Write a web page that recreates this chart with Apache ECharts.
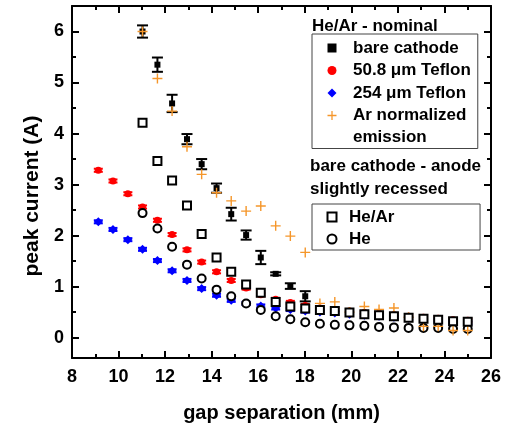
<!DOCTYPE html>
<html>
<head>
<meta charset="utf-8">
<script src="https://cdn.jsdelivr.net/npm/echarts@6/dist/echarts.min.js"></script>
<style>
  html, body { margin: 0; padding: 0; background: #fff; }
  #chart { width: 509px; height: 429px; }
</style>
</head>
<body>
<div id="chart"></div>
<script>
//------------------------------------------------------------
// data
//------------------------------------------------------------
// gap separation (mm), 26 positions
var gapAll = [9.13, 9.76, 10.40, 11.03, 11.67, 12.30, 12.94, 13.57, 14.21, 14.84,
	15.48, 16.11, 16.75, 17.38, 18.02, 18.65, 19.29, 19.92, 20.56, 21.19,
	21.83, 22.46, 23.10, 23.73, 24.37, 25.00];
var gapBare = [11.03, 11.67, 12.30, 12.94, 13.57, 14.21, 14.84, 15.48, 16.11, 16.75,
	17.38, 18.02];
var gapLong = [11.03, 11.67, 12.30, 12.94, 13.57, 14.21, 14.84, 15.48, 16.11, 16.75,
	17.38, 18.02, 18.65, 19.29, 19.92, 20.56, 21.19, 21.83, 22.46, 23.10,
	23.73, 24.37, 25.00];

// He/Ar nominal
var bareCathode = [6.00, 5.35, 4.59, 3.89, 3.40, 2.93, 2.42, 2.01, 1.57, 1.25, 1.01, 0.81];
var bareCathodeErr = [0.12, 0.14, 0.17, 0.10, 0.10, 0.09, 0.125, 0.09, 0.13, 0.03, 0.055, 0.10];
var teflon508 = [3.28, 3.07, 2.82, 2.56, 2.30, 2.02, 1.72, 1.48, 1.29, 1.12,
	0.97, 0.84, 0.75, 0.69, 0.63, 0.58, 0.55, 0.52, 0.49, 0.47,
	0.45, 0.42, 0.40, 0.38, 0.35, 0.34];
var teflon508Err = [0.03, 0.03, 0.03, 0.03, 0.03, 0.03, 0.03, 0.03, 0.03, 0.03,
	0.03, 0.03, 0.03, 0.03, 0.03, 0.03, 0.03, 0.03, 0.03, 0.03,
	0.03, 0.03, 0.03, 0.03, 0.03, 0.03];
var teflon254 = [2.27, 2.12, 1.92, 1.73, 1.51, 1.31, 1.12, 0.96, 0.83, 0.73,
	0.67, 0.62, 0.58, 0.55, 0.52, 0.50, 0.48, 0.46, 0.44, 0.42,
	0.40, 0.38, 0.36, 0.34, 0.31, 0.29];
var teflon254Err = [0.03, 0.03, 0.03, 0.03, 0.03, 0.03, 0.03, 0.03, 0.03, 0.03,
	0.03, 0.03, 0.03, 0.03, 0.03, 0.03, 0.03, 0.03, 0.03, 0.03,
	0.03, 0.03, 0.03, 0.03, 0.03, 0.03];
var arEmission = [6.00, 5.08, 4.44, 3.74, 3.20, 2.84, 2.68, 2.48, 2.58, 2.19,
	1.99, 1.67, 0.67, 0.70, 0.50, 0.61, 0.55, 0.58, 0.40, 0.22,
	0.22, 0.14, 0.14];

// bare cathode - anode slightly recessed
var recessedHeAr = [4.21, 3.46, 3.08, 2.59, 2.03, 1.57, 1.29, 1.04, 0.88, 0.70,
	0.61, 0.57, 0.54, 0.52, 0.49, 0.46, 0.44, 0.42, 0.39, 0.37,
	0.35, 0.32, 0.31];
var recessedHe = [2.44, 2.14, 1.78, 1.43, 1.16, 0.94, 0.81, 0.67, 0.54, 0.42,
	0.36, 0.30, 0.27, 0.25, 0.24, 0.23, 0.21, 0.20, 0.19, 0.19,
	0.19, 0.17, 0.17];

var xTicks = { min: 8, max: 26, step: 2 };
var yRange = { min: -0.4, max: 6.5 };

var FONT = 'Liberation Sans, Arial, sans-serif';
var ORANGE = '#f5962a';
var PLUS = 'path://M0.43,0H0.57V0.43H1V0.57H0.57V1H0.43V0.57H0V0.43H0.43Z';

//------------------------------------------------------------
// helpers
//------------------------------------------------------------
function pairs(xs, ys) {
	var out = [];
	for (var i = 0; i < xs.length; i++) {
		out.push([xs[i], ys[i]]);
	}
	return out;
}

// error bars drawn with a custom series
function errorBars(name, xs, ys, errs, color, capWidth, lineWidth) {
	var data = [];
	for (var i = 0; i < xs.length; i++) {
		data.push([xs[i], ys[i] - errs[i], ys[i] + errs[i]]);
	}
	return {
		type: 'custom',
		name: name,
		silent: true,
		data: data,
		encode: { x: 0, y: [1, 2] },
		renderItem: function (params, api) {
			var lo = api.coord([api.value(0), api.value(1)]);
			var hi = api.coord([api.value(0), api.value(2)]);
			var h = capWidth / 2;
			var st = { stroke: color, lineWidth: lineWidth };
			return {
				type: 'group',
				children: [
					{ type: 'line', shape: { x1: lo[0], y1: lo[1], x2: hi[0], y2: hi[1] }, style: st },
					{ type: 'line', shape: { x1: lo[0] - h, y1: lo[1], x2: lo[0] + h, y2: lo[1] }, style: st },
					{ type: 'line', shape: { x1: hi[0] - h, y1: hi[1], x2: hi[0] + h, y2: hi[1] }, style: st }
				]
			};
		}
	};
}

function frameAxis(extra) {
	var ax = {
		type: 'value',
		axisLine: { show: true, onZero: false, lineStyle: { color: '#000', width: 2 } },
		axisTick: { show: true, inside: true, length: 7, lineStyle: { color: '#000', width: 2 } },
		minorTick: { show: true, splitNumber: 2, length: 4, lineStyle: { color: '#000', width: 2 } },
		splitLine: { show: false },
		axisLabel: { show: false }
	};
	for (var k in extra) ax[k] = extra[k];
	return ax;
}

var labelStyle = { fontFamily: FONT, fontWeight: 'bold', fontSize: 18, color: '#000' };

//------------------------------------------------------------
// chart
//------------------------------------------------------------
var myChart = echarts.init(document.getElementById('chart'));

var option = {
	animation: false,
	backgroundColor: '#fff',
	grid: { left: 72, top: 6, right: 18, bottom: 71 },
	xAxis: [
		frameAxis({
			min: xTicks.min, max: xTicks.max, interval: xTicks.step,
			position: 'bottom',
			name: 'gap separation (mm)', nameLocation: 'middle', nameGap: 45,
			nameTextStyle: { fontFamily: FONT, fontWeight: 'bold', fontSize: 20, color: '#000' },
			axisLabel: { show: true, margin: 10, textStyle: labelStyle }
		}),
		frameAxis({ min: xTicks.min, max: xTicks.max, interval: xTicks.step, position: 'top' })
	],
	yAxis: [
		frameAxis({
			min: yRange.min, max: yRange.max, splitNumber: 7,
			position: 'left',
			name: 'peak current (A)', nameLocation: 'middle', nameGap: 26,
			nameTextStyle: { fontFamily: FONT, fontWeight: 'bold', fontSize: 21, color: '#000', padding: [0, 28, 0, 0] },
			axisLabel: { show: true, margin: 8, showMinLabel: false, showMaxLabel: false, textStyle: labelStyle }
		}),
		frameAxis({ min: yRange.min, max: yRange.max, splitNumber: 7, position: 'right' })
	],
	legend: [{
		orient: 'vertical', left: 312, top: 34,
		padding: [5.5, 7, 24.5, 15.5], itemGap: 5.5,
		itemWidth: 9, itemHeight: 9,
		borderColor: '#444', borderWidth: 1,
		selectedMode: false,
		textStyle: { fontFamily: FONT, fontWeight: 'bold', fontSize: 17, color: '#000', lineHeight: 17, padding: [0, 0, 0, 11.5] },
		data: ['bare cathode', '50.8 μm Teflon', '254 μm Teflon', 'Ar normalized']
	}, {
		orient: 'vertical', left: 312, top: 204,
		padding: [4.5, 85.7, 2.5, 14.5], itemGap: 5,
		itemWidth: 9, itemHeight: 9,
		borderColor: '#444', borderWidth: 1,
		selectedMode: false,
		textStyle: { fontFamily: FONT, fontWeight: 'bold', fontSize: 17, color: '#000', lineHeight: 17, padding: [0, 0, 0, 7.5] },
		data: ['He/Ar', 'He']
	}],
	graphic: [
		{ type: 'text', x: 312, y: 26, style: { text: 'He/Ar - nominal', font: 'bold 17px ' + FONT, fill: '#000', verticalAlign: 'middle' } },
		{ type: 'text', x: 353, y: 137, style: { text: 'emission', font: 'bold 17px ' + FONT, fill: '#000', verticalAlign: 'middle' } },
		{ type: 'text', x: 310, y: 166, style: { text: 'bare cathode - anode', font: 'bold 17px ' + FONT, fill: '#000', verticalAlign: 'middle' } },
		{ type: 'text', x: 310, y: 189, style: { text: 'slightly recessed', font: 'bold 17px ' + FONT, fill: '#000', verticalAlign: 'middle' } }
	],
	series: [
		errorBars('50.8 err', gapAll, teflon508, teflon508Err, '#ff0000', 9, 2),
		{
			name: '50.8 μm Teflon', type: 'scatter', symbol: 'circle', symbolSize: 7,
			itemStyle: { color: '#ff0000', opacity: 1 },
			data: pairs(gapAll, teflon508)
		},
		errorBars('254 err', gapAll, teflon254, teflon254Err, '#0000ff', 9, 2),
		{
			name: '254 μm Teflon', type: 'scatter', symbol: 'diamond', symbolSize: 9,
			itemStyle: { color: '#0000ff', opacity: 1 },
			data: pairs(gapAll, teflon254)
		},
		errorBars('bare err', gapBare, bareCathode, bareCathodeErr, '#000', 11, 2),
		{
			name: 'bare cathode', type: 'scatter', symbol: 'rect', symbolSize: 6,
			itemStyle: { color: '#000', opacity: 1 },
			data: pairs(gapBare, bareCathode)
		},
		{
			name: 'He', type: 'scatter', symbol: 'emptyCircle', symbolSize: 8,
			itemStyle: { color: '#000', borderWidth: 1.5, opacity: 1 },
			data: pairs(gapLong, recessedHe)
		},
		{
			name: 'Ar normalized', type: 'scatter', symbol: PLUS, symbolSize: 10,
			itemStyle: { color: ORANGE, opacity: 1 },
			data: pairs(gapLong, arEmission)
		},
		{
			name: 'He/Ar', type: 'scatter', symbol: 'emptyRect', symbolSize: 8,
			itemStyle: { color: '#000', borderWidth: 1.5, opacity: 1 },
			data: pairs(gapLong, recessedHeAr)
		}
	]
};
myChart.setOption(option);
</script>
</body>
</html>
